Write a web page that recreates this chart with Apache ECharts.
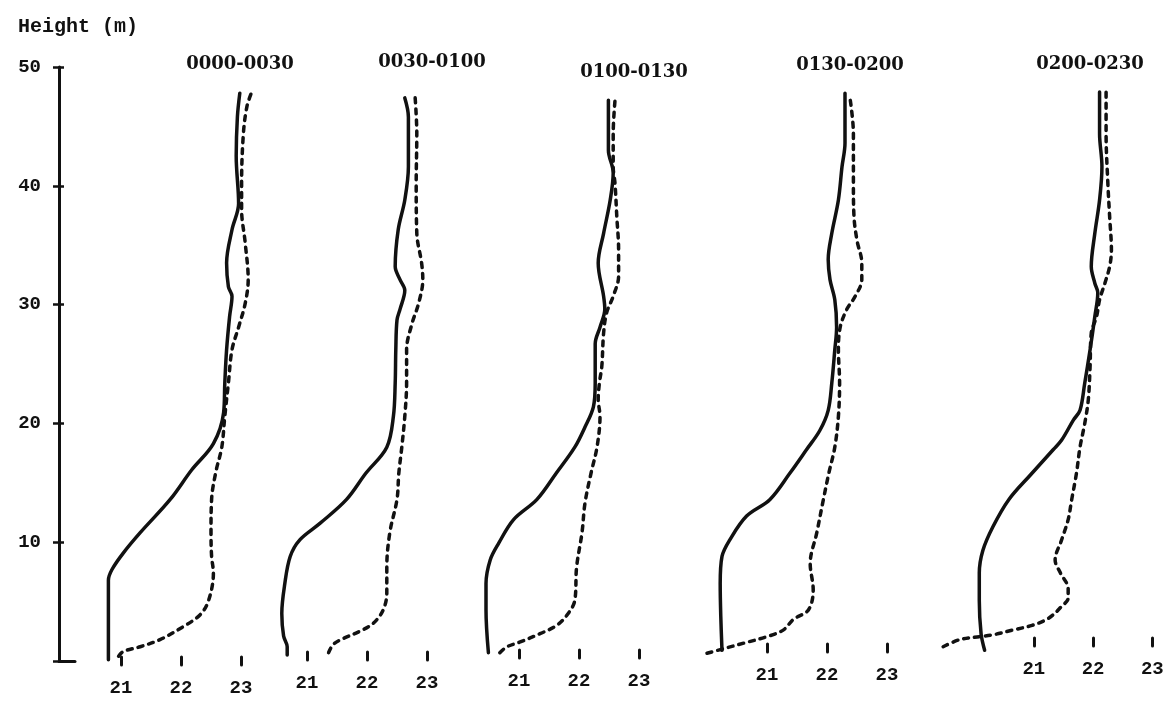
<!DOCTYPE html>
<html>
<head>
<meta charset="utf-8">
<title>Temperature profiles</title>
<script src="https://cdn.jsdelivr.net/npm/echarts@6/dist/echarts.min.js"></script>
<style>
  html, body { margin: 0; padding: 0; background: #fff; }
  #chart { width: 1176px; height: 715px; }
</style>
</head>
<body>
<div id="chart"></div>
<script>
// Half-hour periods, one profile panel each
const periods = ['0000-0030', '0030-0100', '0100-0130', '0130-0200', '0200-0230'];
const tempTicks = [21, 22, 23];
const heightTicks = [10, 20, 30, 40, 50];

// Profiles as [temperature (°C), height (m)], listed from the ground up
const solid0000 = [[20.79,0.1],[20.79,2.3],[20.79,6.8],[20.85,7.7],[21.04,9.1],[21.32,10.8],[21.82,13.6],[22.18,16.1],[22.54,18.3],[22.71,20.9],[22.73,23.4],[22.76,26.2],[22.81,29.0],[22.85,30.7],[22.79,31.5],[22.76,33.5],[22.85,36.3],[22.96,38.5],[22.92,42.5],[22.94,45.8],[22.98,47.8]];
const dashed0000 = [[20.96,0.4],[21.04,0.8],[21.32,1.2],[21.65,1.8],[22.04,2.9],[22.32,3.9],[22.46,5.1],[22.54,7.4],[22.51,8.8],[22.50,10.8],[22.51,13.6],[22.58,15.9],[22.68,18.0],[22.73,20.6],[22.79,23.4],[22.85,26.2],[22.96,28.1],[23.07,30.1],[23.12,32.1],[23.07,35.2],[23.01,38.0],[23.01,40.2],[23.04,44.4],[23.10,46.7],[23.18,47.9]];

const solid0030 = [[20.67,0.5],[20.67,1.2],[20.61,2.1],[20.58,4.0],[20.63,6.5],[20.72,8.8],[20.88,10.2],[21.22,11.6],[21.66,13.6],[21.98,15.8],[22.33,18.0],[22.44,20.6],[22.47,23.4],[22.48,26.2],[22.50,28.7],[22.55,29.6],[22.63,31.2],[22.55,32.1],[22.47,33.2],[22.52,36.3],[22.63,38.8],[22.69,41.6],[22.69,45.8],[22.63,47.4]];
const dashed0030 = [[21.36,0.7],[21.44,1.4],[21.61,1.9],[21.88,2.5],[22.11,3.2],[22.27,4.3],[22.33,5.7],[22.33,7.9],[22.38,10.8],[22.50,13.6],[22.53,15.8],[22.58,18.0],[22.63,20.6],[22.66,23.4],[22.66,26.2],[22.75,28.4],[22.86,30.1],[22.93,32.1],[22.91,33.5],[22.83,36.0],[22.82,40.2],[22.83,44.4],[22.80,47.6]];

const solid0100 = [[20.49,0.7],[20.45,4.3],[20.45,6.5],[20.52,8.5],[20.66,9.9],[20.91,11.9],[21.30,13.6],[21.62,15.8],[21.93,18.0],[22.10,19.7],[22.24,21.4],[22.27,23.4],[22.27,26.7],[22.35,28.1],[22.43,29.6],[22.41,30.7],[22.32,33.5],[22.41,36.0],[22.52,38.8],[22.57,41.1],[22.49,43.0],[22.49,47.2]];
const dashed0100 = [[20.68,0.7],[20.80,1.2],[21.02,1.6],[21.35,2.3],[21.63,3.0],[21.82,4.0],[21.93,5.1],[21.96,7.9],[22.05,10.8],[22.10,13.3],[22.20,15.8],[22.30,18.0],[22.35,20.6],[22.32,22.0],[22.34,23.4],[22.38,24.8],[22.41,27.6],[22.46,29.3],[22.57,30.7],[22.66,32.4],[22.66,34.6],[22.63,37.4],[22.60,40.2],[22.57,41.6],[22.57,44.4],[22.60,47.2]];

const solid0130 = [[20.25,0.9],[20.23,3.7],[20.22,6.5],[20.25,8.8],[20.38,10.2],[20.66,12.2],[21.05,13.6],[21.38,15.8],[21.66,17.8],[21.88,19.4],[22.02,21.1],[22.08,23.4],[22.13,26.2],[22.16,28.1],[22.13,30.4],[22.05,32.1],[22.02,33.8],[22.08,36.0],[22.19,38.8],[22.25,41.6],[22.30,43.6],[22.30,47.8]];
const dashed0130 = [[20.00,0.65],[20.25,1.0],[20.61,1.5],[21.00,2.05],[21.27,2.6],[21.44,3.5],[21.69,4.3],[21.77,6.0],[21.72,8.2],[21.83,10.8],[21.94,13.6],[22.03,15.8],[22.13,18.0],[22.19,20.6],[22.21,23.4],[22.19,26.2],[22.22,28.1],[22.33,29.6],[22.47,30.7],[22.58,32.1],[22.58,33.5],[22.50,35.4],[22.45,37.4],[22.44,40.2],[22.44,44.4],[22.38,47.5]];

const solid0200 = [[20.17,0.9],[20.11,2.3],[20.08,5.1],[20.08,7.4],[20.14,9.3],[20.31,11.3],[20.58,13.6],[20.95,15.7],[21.33,17.8],[21.47,18.6],[21.67,20.3],[21.78,21.1],[21.86,23.4],[21.95,26.2],[22.03,29.0],[22.08,31.0],[22.03,31.8],[21.97,33.2],[22.03,36.0],[22.11,38.8],[22.15,41.6],[22.11,44.4],[22.11,47.9]];
const dashed0200 = [[19.47,1.2],[19.75,1.8],[20.08,2.05],[20.31,2.2],[20.64,2.6],[20.97,3.0],[21.25,3.6],[21.47,4.6],[21.58,5.3],[21.58,6.1],[21.45,7.4],[21.36,8.5],[21.47,10.2],[21.58,11.9],[21.64,13.6],[21.72,15.8],[21.78,18.0],[21.86,20.0],[21.92,22.0],[21.95,24.8],[21.97,27.6],[22.06,29.0],[22.11,30.4],[22.20,31.8],[22.28,33.2],[22.31,34.6],[22.28,37.4],[22.25,40.2],[22.22,44.4],[22.22,48.2]];

const solidProfiles = [solid0000, solid0030, solid0100, solid0130, solid0200];
const dashedProfiles = [dashed0000, dashed0030, dashed0100, dashed0130, dashed0200];

// ---- layout ----
const PLOT_TOP = 67;
const PLOT_HEIGHT = 594;
const AXIS_X = 59;
const PX_PER_DEG = 60;
const T_MIN = 19.4, T_MAX = 23.4;
const panelX21 = [121, 307, 519, 767, 1035];      // pixel position of 21 °C in each panel
const panelAxisShift = [-4, -9, -11, -17, -23];   // vertical nudge of each temperature scale
const titlePos = [[240, 64], [432, 62], [634, 72], [850, 65], [1090, 64]];

const INK = '#111';
const monoBold = { fontFamily: 'Liberation Mono', fontWeight: 'bold', fontSize: 19, color: INK };

const grids = [{ left: AXIS_X, top: PLOT_TOP, width: 16, height: PLOT_HEIGHT }];
const xAxes = [{
  gridIndex: 0, type: 'value', min: 0, max: 1,
  axisLine: { show: true, lineStyle: { color: INK, width: 3 } },
  axisTick: { show: false }, axisLabel: { show: false }, splitLine: { show: false }
}];
const heightScale = { type: 'value', min: 0, max: 50, interval: 10 };
const yAxes = [
  Object.assign({}, heightScale, {
    gridIndex: 0, position: 'left',
    axisLine: { show: true, lineStyle: { color: INK, width: 3 } },
    axisTick: { show: true, inside: false, length: 6, lineStyle: { color: INK, width: 2.5 } },
    axisLabel: Object.assign({ margin: 18, customValues: heightTicks }, monoBold),
    splitLine: { show: false }
  }),
  Object.assign({}, heightScale, {
    gridIndex: 0, position: 'left',
    axisLine: { show: false },
    axisTick: { show: true, inside: true, length: 5, lineStyle: { color: INK, width: 2.5 } },
    axisLabel: { show: false },
    splitLine: { show: false }
  })
];
const series = [];

periods.forEach((p, i) => {
  const g = grids.length;
  grids.push({
    left: panelX21[i] - (21 - T_MIN) * PX_PER_DEG,
    width: (T_MAX - T_MIN) * PX_PER_DEG,
    top: PLOT_TOP, height: PLOT_HEIGHT
  });
  xAxes.push({
    gridIndex: g, type: 'value', min: T_MIN, max: T_MAX,
    position: 'bottom', offset: panelAxisShift[i],
    axisLine: { show: false },
    axisTick: { show: true, length: 8, customValues: tempTicks,
      lineStyle: { color: INK, width: 3, cap: 'round' } },
    axisLabel: Object.assign({ customValues: tempTicks, margin: 22 }, monoBold),
    splitLine: { show: false }
  });
  const yi = yAxes.length;
  yAxes.push(Object.assign({}, heightScale, {
    gridIndex: g, show: false, splitLine: { show: false }
  }));
  const common = {
    type: 'line', xAxisIndex: g, yAxisIndex: yi,
    symbol: 'none', smooth: 0.35, clip: false, silent: true
  };
  series.push(Object.assign({}, common, {
    name: p + ' solid', data: solidProfiles[i],
    lineStyle: { color: INK, width: 3.5, type: 'solid', cap: 'round', join: 'round' }
  }));
  series.push(Object.assign({}, common, {
    name: p + ' dashed', data: dashedProfiles[i],
    lineStyle: { color: INK, width: 3.5, type: [5, 6], cap: 'round', join: 'round' }
  }));
});

const graphic = [{
  type: 'text', x: 18, y: 27,
  style: { text: 'Height (m)', font: 'bold 20px "Liberation Mono"', fill: INK,
    textAlign: 'left', textVerticalAlign: 'middle' }
}];
periods.forEach((p, i) => {
  graphic.push({
    type: 'text', x: titlePos[i][0], y: titlePos[i][1],
    style: { text: p, font: 'bold 18px "DejaVu Serif"', fill: INK,
      textAlign: 'center', textVerticalAlign: 'middle' }
  });
});

const chart = echarts.init(document.getElementById('chart'), null, { renderer: 'canvas' });
chart.setOption({
  animation: false,
  backgroundColor: '#ffffff',
  grid: grids,
  xAxis: xAxes,
  yAxis: yAxes,
  series: series,
  graphic: graphic
});
</script>
</body>
</html>
